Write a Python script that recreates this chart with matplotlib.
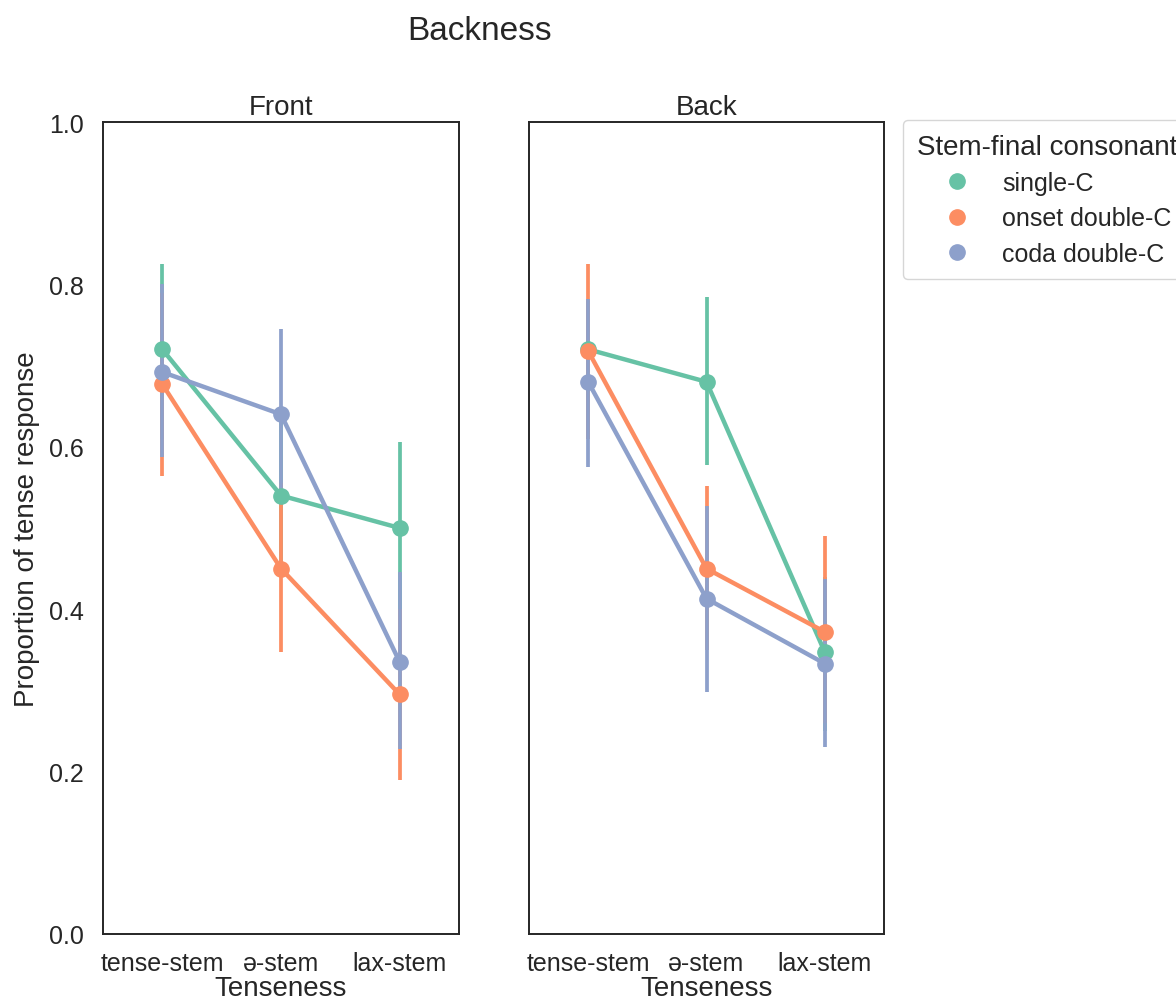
import matplotlib
matplotlib.use("Agg")
import matplotlib.pyplot as plt
from matplotlib.lines import Line2D

plt.rcParams['font.family'] = ['Liberation Sans', 'DejaVu Sans']

categories = ["tense-stem", "ə-stem", "lax-stem"]
panels = ["Front", "Back"]
groups = ["single-C", "onset double-C", "coda double-C"]
colors = ["#66c2a5", "#fc8d62", "#8da0cb"]

# Front panel: means, CI low, CI high
front_single = [0.72, 0.54, 0.50]
front_single_lo = [0.61, 0.44, 0.40]
front_single_hi = [0.825, 0.64, 0.606]
front_onset = [0.677, 0.45, 0.295]
front_onset_lo = [0.564, 0.347, 0.19]
front_onset_hi = [0.79, 0.555, 0.40]
front_coda = [0.692, 0.64, 0.335]
front_coda_lo = [0.587, 0.536, 0.228]
front_coda_hi = [0.80, 0.745, 0.446]

# Back panel
back_single = [0.72, 0.68, 0.347]
back_single_lo = [0.61, 0.577, 0.25]
back_single_hi = [0.78, 0.784, 0.44]
back_onset = [0.718, 0.45, 0.372]
back_onset_lo = [0.61, 0.35, 0.26]
back_onset_hi = [0.825, 0.552, 0.49]
back_coda = [0.68, 0.413, 0.333]
back_coda_lo = [0.575, 0.298, 0.23]
back_coda_hi = [0.782, 0.527, 0.437]

data = {
    "Front": [(front_single, front_single_lo, front_single_hi),
              (front_onset, front_onset_lo, front_onset_hi),
              (front_coda, front_coda_lo, front_coda_hi)],
    "Back": [(back_single, back_single_lo, back_single_hi),
             (back_onset, back_onset_lo, back_onset_hi),
             (back_coda, back_coda_lo, back_coda_hi)],
}

W, H = 1176, 1004
fig = plt.figure(figsize=(W / 100, H / 100), dpi=100)
fig.patch.set_facecolor("white")

ax_rects = {
    "Front": [103 / W, (H - 935) / H, 356 / W, 812 / H],
    "Back": [529 / W, (H - 935) / H, 355 / W, 812 / H],
}

edge = "#262626"
x = list(range(len(categories)))
for pi, panel in enumerate(panels):
    ax = fig.add_axes(ax_rects[panel])
    for gi, (mean, lo, hi) in enumerate(data[panel]):
        c = colors[gi]
        for xi in x:
            ax.plot([xi, xi], [lo[xi], hi[xi]], color=c, lw=2.7,
                    solid_capstyle="butt", zorder=2 + gi * 0.1)
        ax.plot(x, mean, color=c, lw=3.2, marker="o", markersize=11,
                zorder=3 + gi * 0.1)
    ax.set_xlim(-0.5, 2.5)
    ax.set_ylim(0, 1.0)
    ax.set_xticks(x)
    ax.set_xticklabels(categories, fontsize=18, color=edge)
    ax.set_yticks([0, 0.2, 0.4, 0.6, 0.8, 1.0])
    if pi == 0:
        ax.set_yticklabels(["0.0", "0.2", "0.4", "0.6", "0.8", "1.0"],
                           fontsize=18, color=edge)
        ax.set_ylabel("Proportion of tense response", fontsize=20,
                      color=edge, labelpad=6)
    else:
        ax.set_yticklabels([])
    ax.tick_params(axis="x", length=0, pad=12)
    ax.tick_params(axis="y", length=0, pad=14)
    ax.set_xlabel("Tenseness", fontsize=20, color=edge, labelpad=0)
    ax.set_title(panel, fontsize=20, color=edge, pad=6)
    for s in ax.spines.values():
        s.set_color(edge)
        s.set_linewidth(1.4)

fig.text(480 / W, 1 - 32 / H, "Backness", fontsize=24, color=edge,
         ha="center", va="center")

handles = [Line2D([], [], color=c, marker="o", linestyle="", markersize=11)
           for c in colors]
leg = fig.legend(handles, groups, title="Stem-final consonant",
                 loc="upper left", bbox_to_anchor=(903 / W, 1 - 121 / H),
                 fontsize=18, title_fontsize=20, frameon=True,
                 borderaxespad=0, handlelength=2.8, handletextpad=0.4,
                 labelspacing=0.45, borderpad=0.55)
leg.get_frame().set_edgecolor("#cccccc")
leg.get_frame().set_linewidth(1.0)
for t in leg.get_texts():
    t.set_color(edge)
leg.get_title().set_color(edge)

fig.savefig("out.png", dpi=100, facecolor="white")
